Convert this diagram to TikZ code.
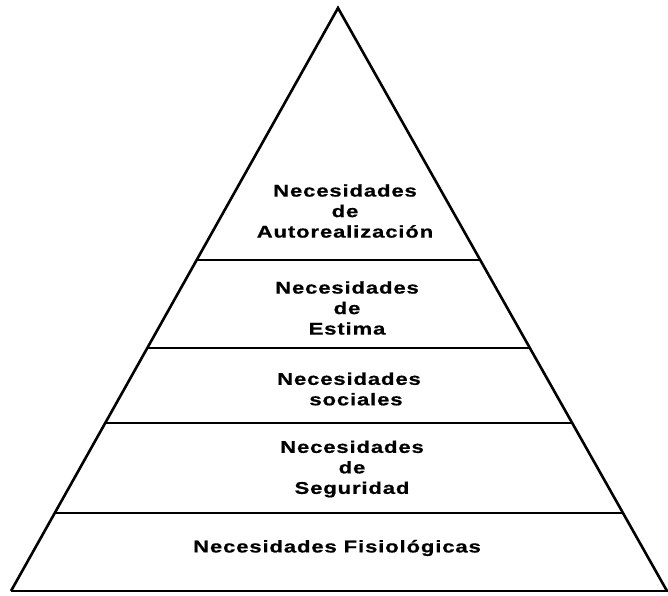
\documentclass[tikz,border=0pt]{standalone}
\usepackage{fontspec}
\setmainfont{Liberation Sans}[FakeStretch=1.3,LetterSpace=5,FakeBold=0.6]
\begin{document}
\begin{tikzpicture}[x=1pt,y=-1pt,
  edge/.style={line width=2.6pt,line join=miter},
  tier/.style={line width=2pt},
  label/.style={align=center,font=\fontsize{17}{20.5}\selectfont\bfseries,inner sep=0pt}]
\useasboundingbox (0,0) rectangle (668,595);
% outline of the pyramid
\coordinate (apex) at (338,8);
\coordinate (bl) at (11,591);
\coordinate (br) at (667,591);
\coordinate (bend) at (668,591);
\draw[edge] (bl) -- (apex) -- (br);
\draw[edge] (bl) -- (bend);
% horizontal dividers between the levels
\foreach \name/\yy in {one/260,two/348,three/423,four/513}{
  \pgfmathsetmacro{\xl}{338-(327/583)*(\yy-8)}
  \pgfmathsetmacro{\xr}{338+(329/583)*(\yy-8)}
  \coordinate (\name L) at (\xl,\yy);
  \coordinate (\name R) at (\xr,\yy);
  \draw[tier] (\name L) -- (\name R);
}
% level labels
\node[label] (auto) at (345,211) {Necesidades\\de\\Autorealización};
\node[label] (estima) at (347,308) {Necesidades\\de\\Estima};
\node[label] (social) at (349,389) {Necesidades\\\hspace*{14pt}sociales};
\node[label] (segur) at (352,469) {Necesidades\\de\\Seguridad};
\node[label] (fisio) at (337,548) {Necesidades Fisiológicas};
\end{tikzpicture}
\end{document}
